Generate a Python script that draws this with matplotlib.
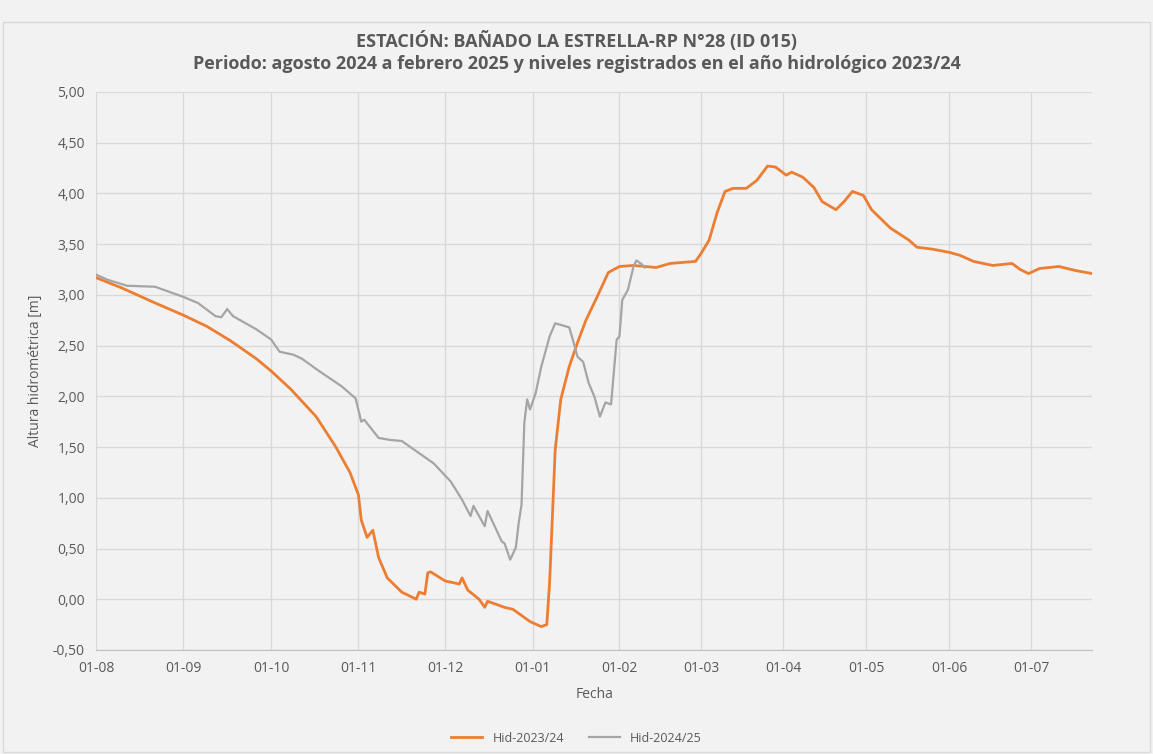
import numpy as np
import pandas as pd
import matplotlib
matplotlib.use('Agg')
import matplotlib.pyplot as plt
import matplotlib.dates as mdates
from matplotlib.ticker import FuncFormatter, MultipleLocator, NullLocator
from matplotlib.patches import Rectangle

plt.rcParams['font.family'] = ['Open Sans', 'DejaVu Sans']

# Hid-2023/24 (año hidrológico completo)
fechas_2324 = ['2023-08-01', '2023-08-10', '2023-08-22', '2023-09-01', '2023-09-09', '2023-09-17',
               '2023-09-26', '2023-10-01', '2023-10-08', '2023-10-17', '2023-10-24', '2023-10-29',
               '2023-11-01', '2023-11-02', '2023-11-04', '2023-11-06', '2023-11-08', '2023-11-11',
               '2023-11-16', '2023-11-21', '2023-11-22', '2023-11-24', '2023-11-25', '2023-11-26',
               '2023-12-01', '2023-12-06', '2023-12-07', '2023-12-09', '2023-12-13', '2023-12-15',
               '2023-12-16', '2023-12-22', '2023-12-25', '2023-12-31', '2024-01-04', '2024-01-06',
               '2024-01-07', '2024-01-08', '2024-01-09', '2024-01-11', '2024-01-14', '2024-01-17',
               '2024-01-20', '2024-01-24', '2024-01-28', '2024-02-01', '2024-02-06', '2024-02-14',
               '2024-02-19', '2024-02-28', '2024-03-01', '2024-03-04', '2024-03-07', '2024-03-10',
               '2024-03-13', '2024-03-18', '2024-03-22', '2024-03-26', '2024-03-29', '2024-04-02',
               '2024-04-04', '2024-04-08', '2024-04-12', '2024-04-15', '2024-04-20', '2024-04-23',
               '2024-04-26', '2024-04-30', '2024-05-03', '2024-05-10', '2024-05-17', '2024-05-20',
               '2024-05-26', '2024-06-01', '2024-06-05', '2024-06-10', '2024-06-17', '2024-06-24',
               '2024-06-27', '2024-06-30', '2024-07-04', '2024-07-11', '2024-07-17', '2024-07-23']
hid_2324 = [3.17, 3.07, 2.92, 2.80, 2.69, 2.55,
            2.37, 2.25, 2.07, 1.80, 1.50, 1.25,
            1.03, 0.78, 0.61, 0.68, 0.41, 0.21,
            0.07, 0.00, 0.07, 0.05, 0.26, 0.27,
            0.18, 0.15, 0.21, 0.09, 0.00, -0.08,
            -0.02, -0.08, -0.10, -0.22, -0.27, -0.25,
            0.16, 0.81, 1.47, 1.97, 2.29, 2.53,
            2.75, 2.98, 3.22, 3.28, 3.29, 3.27,
            3.31, 3.33, 3.41, 3.54, 3.81, 4.02,
            4.05, 4.05, 4.13, 4.27, 4.26, 4.18,
            4.21, 4.16, 4.06, 3.92, 3.84, 3.92,
            4.02, 3.98, 3.84, 3.66, 3.54, 3.47,
            3.45, 3.42, 3.39, 3.33, 3.29, 3.31,
            3.25, 3.21, 3.26, 3.28, 3.24, 3.21]

# Hid-2024/25 (agosto 2024 a febrero 2025)
fechas_2425 = ['2024-08-01', '2024-08-05', '2024-08-12', '2024-08-22', '2024-09-01', '2024-09-06',
               '2024-09-12', '2024-09-14', '2024-09-16', '2024-09-18', '2024-09-26', '2024-10-01',
               '2024-10-04', '2024-10-09', '2024-10-12', '2024-10-18', '2024-10-26', '2024-10-31',
               '2024-11-02', '2024-11-03', '2024-11-08', '2024-11-12', '2024-11-16', '2024-11-21',
               '2024-11-27', '2024-12-03', '2024-12-07', '2024-12-10', '2024-12-11', '2024-12-15',
               '2024-12-16', '2024-12-18', '2024-12-21', '2024-12-22', '2024-12-24', '2024-12-26',
               '2024-12-27', '2024-12-28', '2024-12-29', '2024-12-30', '2024-12-31', '2025-01-02',
               '2025-01-04', '2025-01-07', '2025-01-09', '2025-01-14', '2025-01-15', '2025-01-17',
               '2025-01-19', '2025-01-21', '2025-01-23', '2025-01-25', '2025-01-27', '2025-01-29',
               '2025-01-31', '2025-02-01', '2025-02-02', '2025-02-04', '2025-02-06', '2025-02-07',
               '2025-02-09', '2025-02-10']
hid_2425 = [3.20, 3.15, 3.09, 3.08, 2.98, 2.92,
            2.79, 2.78, 2.86, 2.79, 2.66, 2.56,
            2.44, 2.41, 2.37, 2.25, 2.10, 1.98,
            1.75, 1.77, 1.59, 1.57, 1.56, 1.46,
            1.34, 1.16, 0.98, 0.82, 0.92, 0.72,
            0.87, 0.75, 0.57, 0.55, 0.39, 0.51,
            0.75, 0.93, 1.74, 1.97, 1.87, 2.03,
            2.29, 2.59, 2.72, 2.68, 2.59, 2.39,
            2.34, 2.13, 2.00, 1.80, 1.94, 1.92,
            2.56, 2.59, 2.95, 3.05, 3.28, 3.34,
            3.30, 3.27]

x1 = pd.to_datetime(fechas_2324)
# se superpone sobre el mismo eje de dias/meses del año hidrologico anterior
x2 = pd.to_datetime(fechas_2425) - pd.DateOffset(years=1)

# el eje del original no es lineal en dias: cada mes ocupa un ancho casi fijo
# (ago-ene algo mas anchos que feb-jul); se reproduce con una escala por tramos
meses = pd.date_range('2023-08-01', '2024-07-01', freq='MS').append(pd.DatetimeIndex(['2024-07-23']))
knot_d = mdates.date2num(meses)
knot_p = np.array([0, 87.3, 175, 262.3, 349, 436.7, 523.3, 605, 687.3, 770, 852.7, 935, 996])

def fwd(v):
    return np.interp(v, knot_d, knot_p)

def inv(v):
    return np.interp(v, knot_p, knot_d)

bg = '#f2f2f2'
txt = '#595959'

fig = plt.figure(figsize=(11.53, 7.54), dpi=100, facecolor=bg)
ax = fig.add_axes([0.0833, 0.138, 0.864, 0.740])
ax.set_facecolor(bg)

ax.plot(x1, hid_2324, color='#ed7d31', lw=2.0, label='Hid-2023/24', zorder=3)
ax.plot(x2, hid_2425, color='#a5a5a5', lw=1.6, label='Hid-2024/25', zorder=3)

ax.set_xscale('function', functions=(fwd, inv))
ax.set_ylim(-0.5, 5.0)
ax.set_xlim(meses[0], meses[-1])
ax.yaxis.set_major_locator(MultipleLocator(0.5))
ax.yaxis.set_major_formatter(FuncFormatter(lambda v, p: f'{v:.2f}'.replace('.', ',')))
ax.xaxis.set_major_locator(mdates.MonthLocator(bymonthday=1))
ax.xaxis.set_major_formatter(mdates.DateFormatter('%d-%m'))
ax.xaxis.set_minor_locator(NullLocator())

ax.grid(True, color='#d9d9d9', lw=1.0)
ax.set_axisbelow(True)
for s in ['top', 'right', 'left']:
    ax.spines[s].set_visible(False)
ax.spines['bottom'].set_color('#bfbfbf')
ax.tick_params(length=0, colors=txt, labelsize=10, pad=8)

ax.set_xlabel('Fecha', color=txt, fontsize=10, labelpad=8)
ax.set_ylabel('Altura hidrométrica [m]', color=txt, fontsize=10, labelpad=7)

fig.text(0.5, 0.945, 'ESTACIÓN: BAÑADO LA ESTRELLA-RP N°28 (ID 015)', ha='center', va='center',
         fontsize=13, fontweight='bold', color=txt)
fig.text(0.5, 0.915, 'Periodo: agosto 2024 a febrero 2025 y niveles registrados en el año hidrológico 2023/24',
         ha='center', va='center', fontsize=13, fontweight='bold', color=txt)

fig.legend(loc='center', bbox_to_anchor=(0.5, 0.021), ncol=2, frameon=False, fontsize=9,
           labelcolor=txt, handlelength=2.5, columnspacing=2)

fig.add_artist(Rectangle((0.003, 0.003), 0.994, 0.968, transform=fig.transFigure,
                         fill=False, edgecolor='#d9d9d9', lw=1))

fig.savefig('out.png', dpi=100, facecolor=bg)
